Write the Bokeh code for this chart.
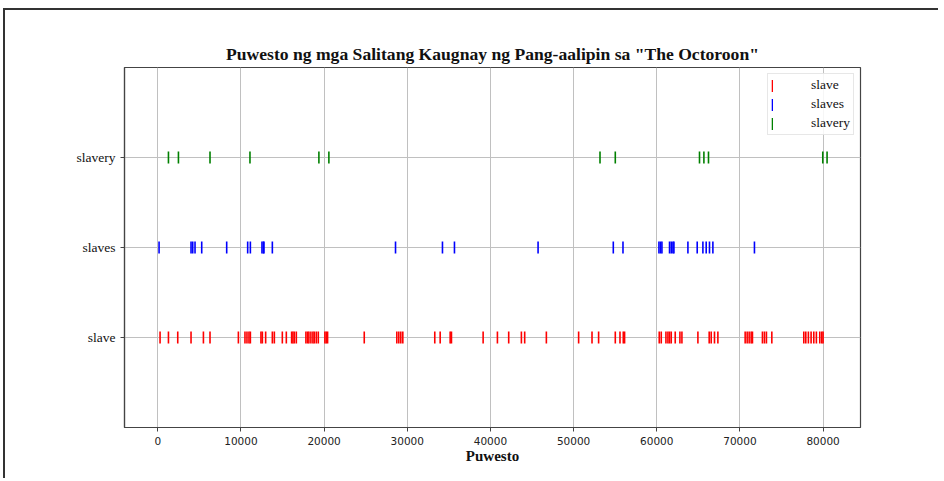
import numpy as np
from bokeh.plotting import figure
from bokeh.models import FixedTicker, Range1d, Legend, LegendItem
from bokeh.embed import file_html
from bokeh.resources import INLINE

words = ["slave", "slaves", "slavery"]
colors = ["red", "blue", "green"]

slave_pos = [276, 1285, 2402, 4000, 5490, 6282, 9694, 10486, 10727, 10967, 11135,
             12408, 12577, 12973, 13778, 14018, 14979, 15459, 16096, 16252, 16420,
             16661, 17814, 18018, 18174, 18414, 18655, 18823, 19063, 19303, 20096,
             20264, 20420, 24829, 28745, 28985, 29225, 29465, 33309, 33958, 35159,
             35315, 39123, 40841, 42198, 43724, 44120, 46727, 50607, 52216, 53009,
             55015, 55580, 55976, 56132, 60300, 60541, 61105, 61345, 61538, 61742,
             62222, 62787, 63027, 64949, 66306, 66547, 66943, 67351, 70631, 70871,
             71111, 71351, 71508, 72709, 72949, 73189, 73838, 77682, 77922, 78234,
             78559, 78883, 79195, 79604, 79844, 80000]
slaves_pos = [156, 4000, 4204, 4480, 5285, 8288, 10811, 11135, 12529, 12697, 12769,
              13778, 28589, 34234, 35676, 45730, 54775, 55940, 60264, 60456, 60624,
              61538, 61742, 61946, 62066, 63748, 64865, 65549, 65946, 66342, 66750,
              71748]
slavery_pos = [1285, 2486, 6282, 11087, 19375, 20576, 53177, 55015, 65141, 65670,
               66222, 79964, 80480]

positions = [slave_pos, slaves_pos, slavery_pos]
x_ticks = [0, 10000, 20000, 30000, 40000, 50000, 60000, 70000, 80000]

title_text = 'Puwesto ng mga Salitang Kaugnay ng Pang-aalipin sa "The Octoroon"'
x_label = "Puwesto"

p = figure(width=935, height=470, output_backend="svg", toolbar_location=None,
           x_range=Range1d(-4000, 84500), y_range=Range1d(-1, 3),
           min_border_left=119, min_border_right=80, min_border_top=57,
           min_border_bottom=53)
p.margin = (8, 0, 0, 3)

p.title.text = title_text
p.title.align = "center"
p.title.text_font = "Liberation Serif"
p.title.text_font_style = "bold"
p.title.text_font_size = "17.6px"
p.title.text_color = "#111111"
p.title.standoff = 7

items = []
for i, (w, c, pos) in enumerate(zip(words, colors, positions)):
    r = p.rect(x=pos, y=[i] * len(pos), width=1.6, height=12,
               width_units="screen", height_units="screen",
               fill_color=c, line_color=None)
    items.append(LegendItem(label=w, renderers=[r]))

legend = Legend(items=items, location="top_right")
legend.label_text_font = "Liberation Serif"
legend.label_text_font_size = "13.5px"
legend.label_text_color = "#111111"
legend.border_line_color = "#d0d0d0"
legend.border_line_width = 1
legend.background_fill_alpha = 0.85
legend.glyph_width = 2
legend.glyph_height = 15
legend.label_standoff = 38
legend.spacing = 3
legend.padding = 3
legend.margin = 6
p.add_layout(legend)

p.xaxis.ticker = FixedTicker(ticks=x_ticks)
p.xaxis.axis_label = x_label
p.xaxis.axis_label_text_font = "Liberation Serif"
p.xaxis.axis_label_text_font_style = "bold"
p.xaxis.axis_label_text_font_size = "15px"
p.xaxis.axis_label_text_color = "#111111"
p.xaxis.axis_label_standoff = 0
p.xaxis.major_label_text_font = "DejaVu Sans"
p.xaxis.major_label_text_font_size = "10.5px"
p.xaxis.major_label_text_color = "#222222"
p.xaxis.minor_tick_line_color = None

p.yaxis.ticker = FixedTicker(ticks=[0, 1, 2])
p.yaxis.major_label_overrides = {0: words[0], 1: words[1], 2: words[2]}
p.yaxis.major_label_text_font = "Liberation Serif"
p.yaxis.major_label_text_font_size = "13.5px"
p.yaxis.major_label_text_color = "#111111"
p.yaxis.minor_tick_line_color = None

for ax in (p.xaxis, p.yaxis):
    ax.axis_line_color = "#444444"
    ax.axis_line_width = 1.2
    ax.major_tick_line_color = "#444444"
    ax.major_tick_out = 4
    ax.major_tick_in = 0

p.outline_line_color = "#444444"
p.outline_line_width = 1.2
p.xgrid.grid_line_color = "#c0c0c0"
p.ygrid.grid_line_color = "#c0c0c0"
p.xgrid.grid_line_width = 1
p.ygrid.grid_line_width = 1
p.styles = {"border-top": "2px solid #333333", "border-left": "2px solid #333333"}

open("out.html", "w").write(file_html(p, INLINE))
